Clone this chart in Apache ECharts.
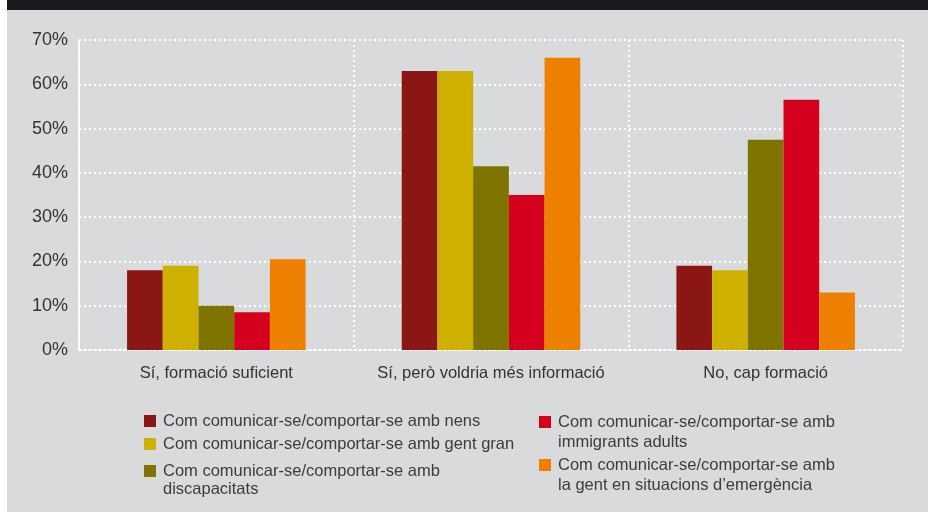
<!DOCTYPE html>
<html>
<head>
<meta charset="utf-8">
<script src="https://cdn.jsdelivr.net/npm/echarts@6/dist/echarts.min.js"></script>
<style>
  html, body { margin: 0; padding: 0; background: #fff; }
  #chart { width: 928px; height: 513px; }
</style>
</head>
<body>
<div id="chart"></div>
<script>
// categories and values (percent)
var categories = ['Sí, formació suficient', 'Sí, però voldria més informació', 'No, cap formació'];
var seriesNames = [
  'Com comunicar-se/comportar-se amb nens',
  'Com comunicar-se/comportar-se amb gent gran',
  'Com comunicar-se/comportar-se amb discapacitats',
  'Com comunicar-se/comportar-se amb immigrants adults',
  'Com comunicar-se/comportar-se amb la gent en situacions d\u2019emergència'
];
var legendLabels = [
  'Com comunicar-se/comportar-se amb nens',
  'Com comunicar-se/comportar-se amb gent gran',
  'Com comunicar-se/comportar-se amb\ndiscapacitats',
  'Com comunicar-se/comportar-se amb\nimmigrants adults',
  'Com comunicar-se/comportar-se amb\nla gent en situacions d\u2019emergència'
];
var nens = [18, 63, 19];
var gentGran = [19, 63, 18];
var discapacitats = [10, 41.5, 47.5];
var immigrants = [8.5, 35, 56.5];
var emergencia = [20.5, 66, 13];
var yTicks = [0, 10, 20, 30, 40, 50, 60, 70];

var colors = ['#8b1714', '#ceb000', '#807400', '#d4001e', '#ee8000'];
var values = [nens, gentGran, discapacitats, immigrants, emergencia];

var dotted = { color: '#ffffff', width: 2, type: [2, 3] };
var font = 'Liberation Sans, Arial, sans-serif';

// one legend per item so each can sit where the original puts it
var legendPos = [
  { left: 144, top: 412, lh: 18 },
  { left: 144, top: 435, lh: 18 },
  { left: 144, top: 444, lh: 18 },
  { left: 539, top: 392, lh: 20 },
  { left: 539, top: 435, lh: 20 }
];
var legends = legendPos.map(function (p, i) {
  // wrapped labels get a blank first line so the icon sits beside the first text line
  var label = legendLabels[i].indexOf('\n') >= 0 ? '\u00a0\n' + legendLabels[i] : legendLabels[i];
  return {
    left: p.left,
    top: p.top,
    padding: 0,
    itemWidth: 12,
    itemHeight: 12,
    icon: 'rect',
    data: [seriesNames[i]],
    formatter: function () { return label; },
    textStyle: {
      fontFamily: font,
      fontSize: 16.5,
      color: '#3c3c3c',
      lineHeight: p.lh,
      padding: [0, 0, 0, 2]
    }
  };
});

var chart = echarts.init(document.getElementById('chart'));
chart.setOption({
  animation: false,
  backgroundColor: '#ffffff',
  graphic: [
    { type: 'rect', z: -10, shape: { x: 7, y: 0, width: 921, height: 10 }, style: { fill: '#1a191d' } },
    { type: 'rect', z: -10, shape: { x: 7, y: 10, width: 921, height: 502 }, style: { fill: '#d9dadc' } }
  ],
  legend: legends,
  grid: { left: 79, right: 25, top: 40, bottom: 163 },
  xAxis: {
    type: 'category',
    data: categories,
    axisLine: { lineStyle: dotted },
    axisTick: { show: false },
    splitLine: { show: true, lineStyle: dotted },
    axisLabel: { interval: 0, fontFamily: font, fontSize: 16.5, color: '#333333', margin: 15 }
  },
  yAxis: {
    type: 'value',
    min: yTicks[0],
    max: yTicks[yTicks.length - 1],
    interval: 10,
    axisLine: { show: true, lineStyle: dotted },
    axisTick: { show: false },
    splitLine: { lineStyle: dotted },
    axisLabel: { fontFamily: font, fontSize: 18, color: '#333333', margin: 11, formatter: '{value}%' }
  },
  series: values.map(function (v, i) {
    return {
      name: seriesNames[i],
      type: 'bar',
      data: v,
      barGap: '0%',
      barCategoryGap: '35%',
      itemStyle: { color: colors[i] }
    };
  })
});
</script>
</body>
</html>
